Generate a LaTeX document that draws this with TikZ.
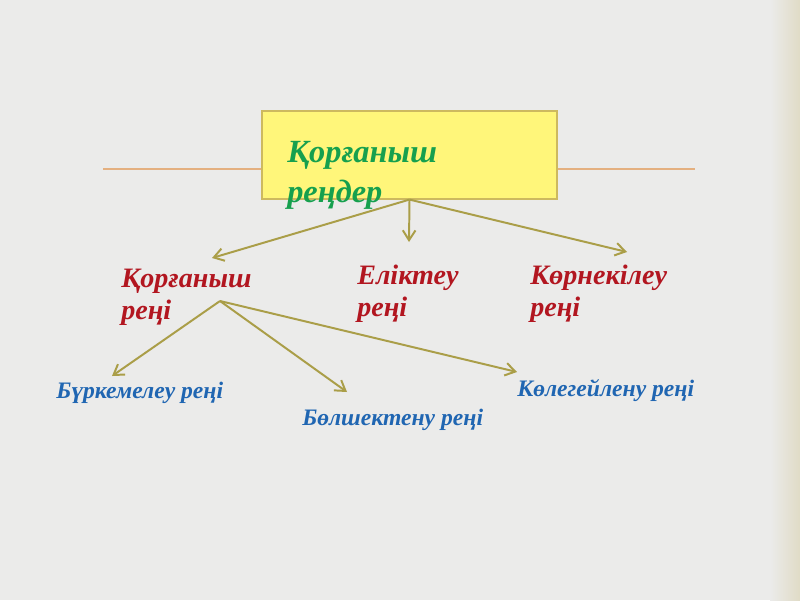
\documentclass[tikz,border=0pt]{standalone}
\usepackage{fontspec}
\setmainfont{Liberation Serif}
\usetikzlibrary{arrows.meta}
\definecolor{pagegray}{RGB}{235,235,234}
\definecolor{edgebeige}{RGB}{224,219,198}
\definecolor{boxyellow}{RGB}{255,246,122}
\definecolor{boxedge}{RGB}{205,185,95}
\definecolor{linkolive}{RGB}{170,158,72}
\definecolor{rulebeige}{RGB}{228,176,128}
\definecolor{titlegreen}{RGB}{22,160,78}
\definecolor{kindred}{RGB}{178,22,32}
\definecolor{subblue}{RGB}{32,102,178}
\tikzset{
  link/.style={draw=linkolive, line width=1.4pt, -{Straight Barb[length=7pt,width=9pt]}},
  kind/.style={text=kindred, font=\fontsize{20}{19.5}\selectfont\bfseries\itshape, align=left, inner sep=0pt, anchor=north west},
  sub/.style={text=subblue, font=\fontsize{16.8}{20}\selectfont\bfseries\itshape, inner sep=0pt, anchor=west},
}
\begin{document}
\begin{tikzpicture}[x=0.025cm, y=-0.025cm]
    \fill[pagegray] (0,0) rectangle (800,600);
    \shade[left color=pagegray, right color=edgebeige] (770,0) rectangle (800,600);
    \useasboundingbox (0,0) rectangle (800,600);
    % rule behind the title box
    \coordinate (ruleL) at (103,169);
    \coordinate (ruleR) at (695,169);
    \draw[rulebeige, line width=1.2pt] (ruleL) -- (ruleR);
    % title
    \node[draw=boxedge, fill=boxyellow, line width=0.8pt, minimum width=7.375cm, minimum height=2.2cm, inner sep=0pt] (box) at (409.5,155) {};
    \node[text=titlegreen, font=\fontsize{23}{24.5}\selectfont\bfseries\itshape, align=left, inner sep=0pt, anchor=north west] (title) at (287,141) {Қорғаныш\\[4pt]реңдер};
    % kinds
    \node[kind] (def) at (121,269) {Қорғаныш\\[3pt]реңі};
    \node[kind] (imit) at (357,265) {Еліктеу\\[3pt]реңі};
    \node[kind] (show) at (530,265) {Көрнекілеу\\[3pt]реңі};
    % sub kinds
    \node[sub] (cover) at (56,393) {Бүркемелеу реңі};
    \node[sub] (split) at (302,420) {Бөлшектену реңі};
    \node[sub] (shade) at (517,391) {Көлегейлену реңі};
    % arrow ends
    \coordinate (toDef) at (212,258);
    \coordinate (toImit) at (409,242);
    \coordinate (toShow) at (627,252);
    \coordinate (fork) at (220,301);
    \coordinate (toCover) at (112,376);
    \coordinate (toSplit) at (347,392);
    \coordinate (toShade) at (517,372);
    \draw[link] (box.south) -- (toDef);
    \draw[link] (box.south) -- (toImit);
    \draw[link] (box.south) -- (toShow);
    \draw[link] (fork) -- (toCover);
    \draw[link] (fork) -- (toSplit);
    \draw[link] (fork) -- (toShade);
\end{tikzpicture}
\end{document}
